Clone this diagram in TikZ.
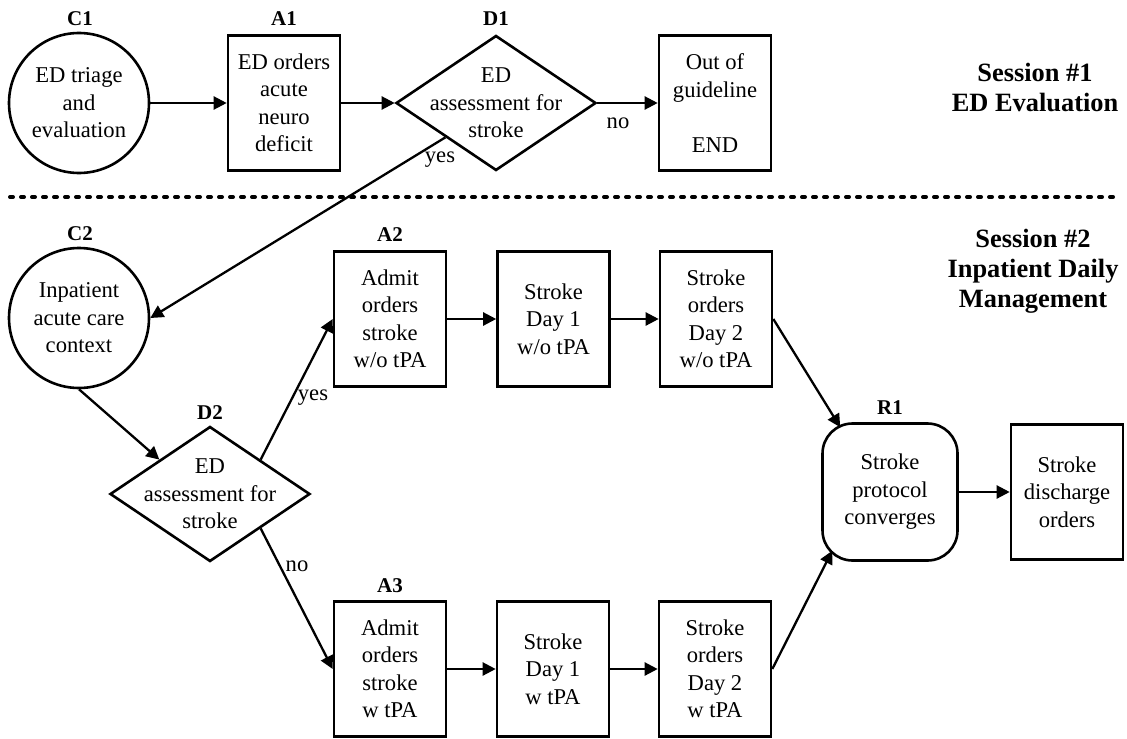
\documentclass[tikz,border=0pt]{standalone}
\usepackage{fontspec}
\setmainfont{Liberation Serif}
\usetikzlibrary{shapes.geometric,arrows.meta,calc}
\begin{document}
\begin{tikzpicture}[x=0.5pt,y=-0.5pt,
  every node/.style={font=\fontsize{11.3}{13.75}\selectfont, align=center},
  proc/.style={draw, rectangle, line width=1.3pt, minimum width=56pt, minimum height=67.5pt, inner sep=1pt},
  circ/.style={draw, circle, line width=1.3pt, minimum size=70pt, inner sep=0pt},
  dec/.style={draw, diamond, line width=1.3pt, minimum width=100pt, minimum height=67.5pt, inner sep=0pt},
  conv/.style={draw, rectangle, rounded corners=15pt, line width=1.3pt, minimum width=67.5pt, minimum height=68.5pt, inner sep=1pt},
  tag/.style={font=\bfseries\fontsize{10.5}{12}\selectfont},
  sess/.style={font=\bfseries\fontsize{13.2}{15}\selectfont},
  flow/.style={line width=1.15pt, -{Triangle[length=6.5pt,width=6.5pt]}},
  sep/.style={line width=2pt, dash pattern=on 1.5pt off 4pt, line cap=round}
]
\useasboundingbox (0,0) rectangle (1127,738);

% Session 1: ED evaluation
\node[circ] (C1) at (79,103) {ED triage\\and\\evaluation};
\node[proc] (A1) at (284,103) {ED orders\\acute\\neuro\\deficit};
\node[dec] (D1) at (496,103) {};
\node (D1t) at (496,103) {ED\\assessment for\\stroke};
\node[proc] (OUT) at (715,103) {Out of\\guideline\\[13.75pt]END};

\node[tag] (tC1) at (80,19) {C1};
\node[tag] (tA1) at (284,19) {A1};
\node[tag] (tD1) at (496,19) {D1};

\node[sess] (S1) at (1035,88) {Session \#1\\ED Evaluation};

% separator between sessions
\draw[sep] (10,197) -- (1118,197);

% Session 2: inpatient daily management
\node[circ] (C2) at (79,318) {Inpatient\\acute care\\context};
\node[dec] (D2) at (210,494) {};
\node (D2t) at (210,494) {ED\\assessment for\\stroke};

\node[proc] (A2) at (390,319) {Admit\\orders\\stroke\\w/o tPA};
\node[proc] (S1a) at (553.5,319) {Stroke\\Day 1\\w/o tPA};
\node[proc] (S2a) at (716,319) {Stroke\\orders\\Day 2\\w/o tPA};

\node[proc] (A3) at (390,669) {Admit\\orders\\stroke\\w tPA};
\node[proc] (S1b) at (553,669) {Stroke\\Day 1\\w tPA};
\node[proc] (S2b) at (715,669) {Stroke\\orders\\Day 2\\w tPA};

\node[conv] (R1) at (890,492) {Stroke\\protocol\\converges};
\node[proc] (DIS) at (1067,492) {Stroke\\discharge\\orders};

\node[tag] (tC2) at (80,234) {C2};
\node[tag] (tD2) at (210,413) {D2};
\node[tag] (tA2) at (390,235) {A2};
\node[tag] (tA3) at (390,586) {A3};
\node[tag] (tR1) at (890,408) {R1};

\node[sess] (S2) at (1033,271) {Session \#2\\Inpatient Daily\\Management};

% connectors
\draw[flow] (C1) -- (A1);
\draw[flow] (A1) -- (D1);
\draw[flow] (D1) -- (OUT);
\node (no1) at (618,123) {no};

\coordinate (D1yes) at ($(D1.west)!0.5!(D1.south)$);
\draw[flow] (D1yes) -- (C2.east);
\node (yes1) at (440,160) {yes};

\coordinate (D2in) at ($(D2.west)!0.5!(D2.north)$);
\draw[flow] (C2.south) -- (D2in);

\coordinate (D2yes) at ($(D2.north)!0.5!(D2.east)$);
\draw[flow] (D2yes) -- (A2.west);
\node (yes2) at (313,398) {yes};

\coordinate (D2no) at ($(D2.east)!0.5!(D2.south)$);
\draw[flow] (D2no) -- (A3.west);
\node (no2) at (297,566) {no};

\draw[flow] (A2) -- (S1a);
\draw[flow] (S1a) -- (S2a);
\draw[flow] (A3) -- (S1b);
\draw[flow] (S1b) -- (S2b);

\coordinate (R1top) at ($(R1.north west)+(19,5)$);
\draw[flow] (S2a.east) -- (R1top);
\coordinate (R1bot) at ($(R1.south west)+(11,-11)$);
\draw[flow] (S2b.east) -- (R1bot);
\draw[flow] (R1) -- (DIS);
\end{tikzpicture}
\end{document}
